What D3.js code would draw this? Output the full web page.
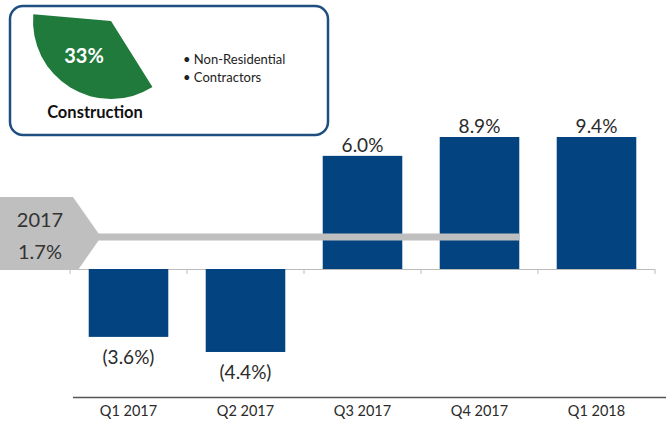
<!DOCTYPE html>
<html><head><meta charset="utf-8">
<script src="https://cdn.jsdelivr.net/npm/d3@7"></script>
<style>body{margin:0;background:#fff}svg{display:block}text{font-family:Lato,"Open Sans",sans-serif}</style>
</head><body><svg id="c" width="666" height="426"></svg>
<script>
const categories = ["Q1 2017","Q2 2017","Q3 2017","Q4 2017","Q1 2018"];
const growth = [-3.6,-4.4,6.0,8.9,9.4];
const valueLabels = ["(3.6%)","(4.4%)","6.0%","8.9%","9.4%"];
const annualYear = "2017";
const annualGrowth = 1.7;
const annualLabel = "1.7%";
const sectorShare = [33];
const sectorName = "Construction";
const sectorBullets = ["Non-Residential","Contractors"];
const axisMax = 7;

const svg = d3.select("#c");
const x = d3.scaleBand().domain(categories).range([70,655]).paddingInner(0.32).paddingOuter(0.16);
const y = d3.scaleLinear().domain([0, axisMax]).range([269, 137]);
const barColor = "#03437f";

// bottom axis line + labels
svg.append("line").attr("x1",73).attr("x2",666).attr("y1",397.5).attr("y2",397.5).attr("stroke","#555").attr("stroke-width",1.5);
svg.selectAll(".cat").data(categories).join("text").attr("class","cat")
  .attr("x",d=>x(d)+x.bandwidth()/2).attr("y",416).attr("text-anchor","middle")
  .attr("font-size",14.5).attr("fill","#2a2a2a").text(d=>d);

// zero axis with ticks
const z = y(0);
svg.append("line").attr("x1",60).attr("x2",655).attr("y1",z+0.5).attr("y2",z+0.5).attr("stroke","#bbb").attr("stroke-width",1);
const bounds = categories.map(c=>x(c)-(x.step()-x.bandwidth())/2).concat([655]);
svg.selectAll(".tk").data(bounds).join("line").attr("class","tk")
  .attr("x1",d=>d).attr("x2",d=>d).attr("y1",z).attr("y2",z+5).attr("stroke","#bbb");

// bars
const data = categories.map((c,i)=>({c, v:growth[i], l:valueLabels[i]}));
svg.selectAll(".bar").data(data).join("rect").attr("class","bar")
  .attr("x",d=>x(d.c)).attr("width",x.bandwidth())
  .attr("y",d=>d.v>=0 ? y(Math.min(d.v,axisMax)) : z)
  .attr("height",d=>Math.abs(y(Math.min(d.v,axisMax))-z))
  .attr("fill",barColor);
svg.selectAll(".vl").data(data).join("text").attr("class","vl")
  .attr("x",d=>x(d.c)+x.bandwidth()/2)
  .attr("y",d=>d.v>=0 ? y(Math.min(d.v,axisMax))-4 : y(d.v)+27)
  .attr("text-anchor","middle").attr("font-size",19).attr("fill","#2a2a2a").text(d=>d.l);

// annual average line
const ay = y(annualGrowth);
svg.append("line").attr("x1",98).attr("x2",x(categories[3])+x.bandwidth()).attr("y1",ay).attr("y2",ay)
  .attr("stroke","#bfbfbf").attr("stroke-width",7);
svg.append("path").attr("d",`M0,${ay-40}L73,${ay-40}L101,${ay}L78,${ay+33}L0,${ay+33}Z`).attr("fill","#bfbfbf");
svg.append("text").attr("x",40).attr("y",ay-10).attr("text-anchor","middle").attr("font-size",20).attr("fill","#333").text(annualYear);
svg.append("text").attr("x",40).attr("y",ay+22).attr("text-anchor","middle").attr("font-size",20).attr("fill","#333").text(annualLabel);

// inset box
svg.append("rect").attr("x",10).attr("y",6).attr("width",318).attr("height",129).attr("rx",13)
  .attr("fill","#fff").attr("stroke","#1f4f80").attr("stroke-width",2.5);
const span = sectorShare[0]/100*2*Math.PI;
const endA = 275*Math.PI/180;
const arc = d3.arc().innerRadius(0).outerRadius(78).startAngle(endA - span*1.07).endAngle(endA);
svg.append("path").attr("transform","translate(111,21)").attr("d",arc()).attr("fill","#1f7a3b");
svg.append("text").attr("x",84).attr("y",63).attr("text-anchor","middle").attr("font-size",20).attr("font-weight","bold").attr("fill","#fff").text(sectorShare[0]+"%");
svg.append("text").attr("x",95).attr("y",118).attr("text-anchor","middle").attr("font-size",16.5).attr("font-weight","bold").attr("fill","#111").text(sectorName);
svg.selectAll(".bl").data(sectorBullets).join("text").attr("class","bl")
  .attr("x",183).attr("y",(d,i)=>64+i*18).attr("font-size",13).attr("fill","#222").text(d=>"\u2022 "+d);
</script></body></html>
